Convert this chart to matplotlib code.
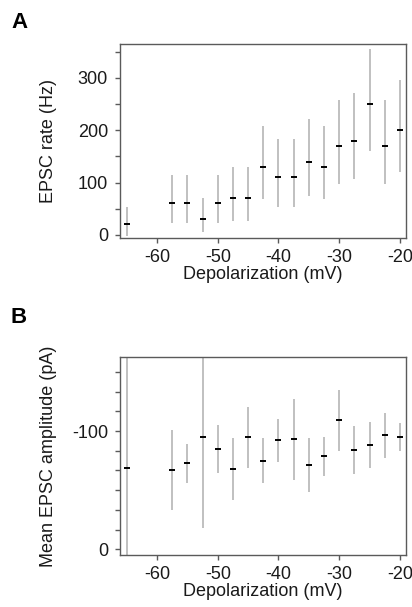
import matplotlib
matplotlib.use("Agg")
import matplotlib.pyplot as plt
from matplotlib.ticker import MultipleLocator
import numpy as np

plt.rcParams['font.family'] = ['Liberation Sans', 'DejaVu Sans']
plt.rcParams['axes.unicode_minus'] = False

# Panel A: EPSC rate
depol_a = [-65, -57.5, -55, -52.5, -50, -47.5, -45, -42.5, -40, -37.5, -35, -32.5, -30, -27.5, -25, -22.5, -20]
rate_mean = [20, 60, 60, 30, 60, 70, 70, 130, 110, 110, 140, 130, 170, 180, 250, 170, 200]
rate_low = [-3, 22, 22, 5, 22, 27, 27, 68, 54, 54, 75, 68, 97, 106, 161, 97, 121]
rate_high = [53, 115, 115, 70, 115, 129, 129, 208, 183, 183, 221, 208, 257, 271, 355, 257, 296]

# Panel B: mean EPSC amplitude
depol_b = [-65, -57.5, -55, -52.5, -50, -47.5, -45, -42.5, -40, -37.5, -35, -32.5, -30, -27.5, -25, -22.5, -20]
amp_mean = [-69, -67, -73, -95, -85, -68, -95, -75, -92, -93.5, -71.5, -79, -109, -84, -88, -97, -95]
amp_low = [20, -33, -56, -18, -64.5, -42, -69, -56, -73.5, -59, -48.5, -62, -83, -63.5, -68.5, -77.5, -83]
amp_high = [-200, -101, -89, -175, -105, -94.5, -120, -94, -110, -127, -94, -95, -134.5, -104.5, -107.5, -115, -106.5]

W, H = 412, 607
fig = plt.figure(figsize=(W / 100, H / 100), dpi=100)

frame_col = '#5a5a5a'
bar_col = '#b5b5b5'
text_col = '#1a1a1a'
FS = 13

def style(ax):
    for s in ax.spines.values():
        s.set_color(frame_col)
        s.set_linewidth(1.0)
    ax.tick_params(which='both', direction='out', color=frame_col, width=1.0, length=3.6,
                   labelsize=FS, labelcolor=text_col)
    ax.tick_params(axis='y', which='both', pad=5)
    ax.tick_params(axis='x', which='both', pad=4)
    ax.xaxis.set_major_locator(MultipleLocator(10))
    ax.set_xlim(-66.1, -19.0)
    ax.set_xlabel('Depolarization (mV)', fontsize=FS, labelpad=0.5, color=text_col)

def draw(ax, x, m, lo, hi):
    for xi, mi, l, h in zip(x, m, lo, hi):
        ax.plot([xi, xi], [l, h], color=bar_col, lw=1.2, solid_capstyle='butt', zorder=2)
    ax.plot(x, m, linestyle='none', marker='_', markersize=5, mew=1.4, color='black', zorder=3)

axA = fig.add_axes([120 / W, 1 - 238 / H, 286 / W, 194 / H])
draw(axA, depol_a, rate_mean, rate_low, rate_high)
style(axA)
axA.set_ylim(-6, 365)
axA.yaxis.set_major_locator(MultipleLocator(100))
axA.yaxis.set_minor_locator(MultipleLocator(50))
axA.set_ylabel('EPSC rate (Hz)', fontsize=FS, color=text_col)
axA.yaxis.set_label_coords((57 - 120) / 286, 0.5)

axB = fig.add_axes([120 / W, 1 - 555 / H, 286 / W, 198.3 / H])
draw(axB, depol_b, amp_mean, amp_low, amp_high)
style(axB)
axB.set_ylim(4.8, -162.8)
axB.yaxis.set_major_locator(MultipleLocator(100))
axB.yaxis.set_minor_locator(MultipleLocator(100 / 6))
axB.set_ylabel('Mean EPSC amplitude (pA)', fontsize=FS, color=text_col)
axB.yaxis.set_label_coords((57 - 120) / 286, 0.5)

fig.text(11 / W, 1 - 28 / H, 'A', fontsize=16, fontweight='bold', ha='left', va='baseline')
fig.text(10 / W, 1 - 323 / H, 'B', fontsize=16, fontweight='bold', ha='left', va='baseline')

fig.savefig('out.png', dpi=100)
